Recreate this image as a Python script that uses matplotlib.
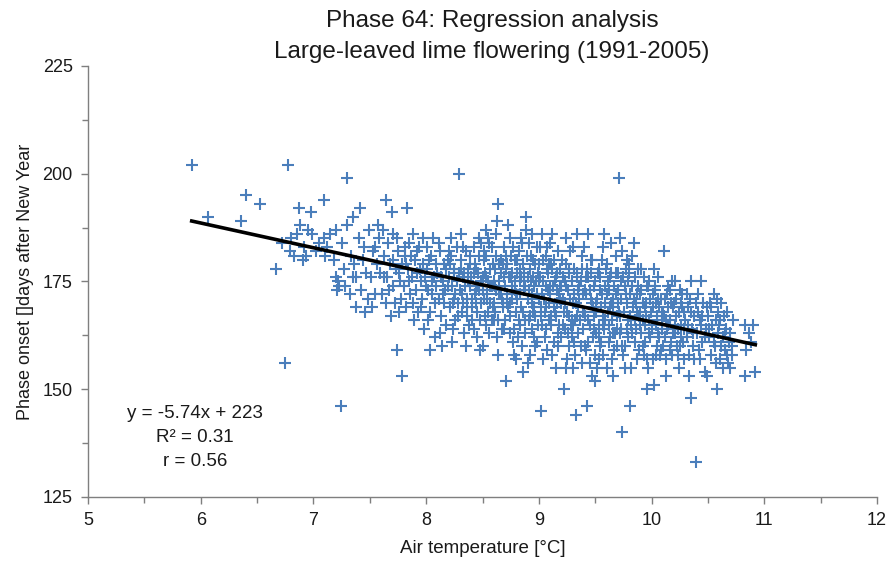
import matplotlib.pyplot as plt

plt.rcParams['font.family'] = ['Liberation Sans', 'DejaVu Sans']

# (air temperature [°C], phase onset [day of year])
obs = [
    (5.92, 202), (6.06, 190), (6.36, 189), (6.40, 195), (6.53, 193),
    (6.67, 178), (6.75, 156), (6.77, 202), (6.79, 182), (6.72, 184), (6.80, 185), (6.85, 186),
    (6.87, 192), (6.88, 188), (6.92, 183), (6.95, 187), (6.98, 191), (6.99, 186), (6.83, 181),
    (6.93, 181), (6.91, 180),
    (7.02, 182), (7.05, 184), (7.09, 194), (7.09, 185), (7.10, 181), (7.12, 183), (7.15, 186),
    (7.18, 180), (7.20, 176), (7.20, 187), (7.22, 175), (7.24, 146), (7.21, 173), (7.23, 174),
    (7.25, 184), (7.27, 178), (7.28, 174), (7.30, 199), (7.30, 188), (7.32, 172), (7.33, 181),
    (7.35, 190), (7.35, 176), (7.36, 179), (7.38, 176), (7.38, 169), (7.40, 185), (7.41, 192),
    (7.42, 173), (7.44, 180), (7.45, 183), (7.46, 168), (7.47, 177), (7.48, 171), (7.49, 187),
    (7.51, 176), (7.53, 182), (7.55, 172), (7.56, 179), (7.58, 185), (7.52, 169), (7.57, 188), (7.59, 177),
    (7.61, 172), (7.63, 181), (7.64, 194), (7.65, 176), (7.66, 184), (7.67, 173), (7.68, 179),
    (7.62, 187), (7.69, 167), (7.64, 170),
    (7.70, 191), (7.71, 186), (7.72, 170), (7.73, 178), (7.74, 159), (7.75, 182), (7.76, 168),
    (7.77, 175), (7.78, 171), (7.79, 153), (7.71, 180), (7.74, 185), (7.76, 177),
    (7.80, 174), (7.81, 181), (7.82, 169), (7.83, 192), (7.84, 178), (7.85, 184), (7.86, 172),
    (7.87, 176), (7.88, 186), (7.89, 166), (7.82, 179), (7.85, 175), (7.88, 170), (7.81, 183),
    (7.90, 180), (7.91, 173), (7.92, 177), (7.93, 168), (7.94, 183), (7.95, 175), (7.96, 171),
    (7.97, 179), (7.98, 164), (7.99, 176), (7.92, 182), (7.95, 169), (7.97, 185),
    (8.00, 174), (8.01, 178), (8.02, 166), (8.03, 159), (8.04, 181), (8.05, 172), (8.06, 185),
    (8.07, 176), (8.08, 170), (8.09, 179), (8.01, 183), (8.03, 168), (8.05, 175), (8.08, 162), (8.02, 173),
    (8.10, 177), (8.11, 171), (8.12, 182), (8.13, 167), (8.14, 160), (8.15, 175), (8.16, 179),
    (8.17, 173), (8.18, 165), (8.19, 180), (8.11, 184), (8.13, 176), (8.16, 170), (8.18, 178),
    (8.12, 163), (8.19, 174),
    (8.20, 176), (8.21, 169), (8.22, 181), (8.23, 174), (8.24, 164), (8.25, 178), (8.26, 172),
    (8.27, 183), (8.28, 167), (8.29, 200), (8.21, 179), (8.23, 161), (8.25, 171), (8.27, 175),
    (8.29, 177), (8.22, 185), (8.24, 170), (8.26, 166),
    (8.30, 173), (8.31, 180), (8.32, 168), (8.33, 176), (8.34, 163), (8.35, 182), (8.36, 171),
    (8.37, 178), (8.38, 165), (8.39, 174), (8.31, 186), (8.33, 170), (8.35, 160), (8.37, 175),
    (8.39, 179), (8.32, 172), (8.34, 177), (8.36, 167),
    (8.40, 176), (8.41, 169), (8.42, 183), (8.43, 172), (8.44, 178), (8.45, 162), (8.46, 174),
    (8.47, 181), (8.48, 166), (8.49, 175), (8.41, 171), (8.43, 179), (8.45, 168), (8.47, 173),
    (8.49, 184), (8.42, 164), (8.44, 170), (8.46, 177), (8.48, 159),
    (8.50, 173), (8.51, 180), (8.52, 167), (8.53, 176), (8.54, 171), (8.55, 185), (8.56, 163),
    (8.57, 178), (8.58, 174), (8.59, 169), (8.51, 182), (8.53, 165), (8.55, 175), (8.57, 170),
    (8.59, 179), (8.50, 160), (8.52, 177), (8.54, 172), (8.56, 184), (8.58, 166), (8.53, 187),
    (8.60, 175), (8.61, 168), (8.62, 181), (8.63, 189), (8.64, 193), (8.65, 172), (8.66, 177),
    (8.67, 164), (8.68, 170), (8.69, 183), (8.61, 174), (8.63, 162), (8.65, 179), (8.67, 171),
    (8.69, 176), (8.60, 166), (8.62, 173), (8.64, 158), (8.66, 180), (8.68, 169), (8.62, 186),
    (8.70, 174), (8.71, 152), (8.72, 179), (8.73, 188), (8.74, 167), (8.75, 176), (8.76, 171),
    (8.77, 183), (8.78, 164), (8.79, 173), (8.71, 178), (8.73, 169), (8.75, 181), (8.77, 161),
    (8.79, 175), (8.70, 166), (8.72, 172), (8.74, 185), (8.76, 177), (8.78, 158), (8.74, 170),
    (8.80, 172), (8.81, 180), (8.82, 166), (8.83, 175), (8.84, 169), (8.85, 184), (8.86, 154),
    (8.87, 177), (8.88, 163), (8.89, 190), (8.89, 187), (8.81, 171), (8.83, 178), (8.85, 160),
    (8.87, 173), (8.82, 182), (8.84, 176), (8.86, 168), (8.88, 174), (8.80, 157), (8.83, 165), (8.86, 179),
    (8.90, 156), (8.91, 173), (8.92, 167), (8.93, 181), (8.94, 170), (8.95, 176), (8.96, 162),
    (8.97, 179), (8.98, 172), (8.99, 165), (8.91, 184), (8.93, 175), (8.95, 168), (8.97, 160),
    (8.99, 177), (8.90, 171), (8.92, 178), (8.94, 164), (8.96, 174), (8.98, 183), (8.92, 158),
    (8.96, 169), (8.94, 186),
    (9.00, 171), (9.01, 176), (9.02, 145), (9.03, 165), (9.04, 180), (9.05, 168), (9.06, 174),
    (9.07, 159), (9.08, 177), (9.09, 170), (9.01, 183), (9.03, 172), (9.05, 162), (9.07, 178),
    (9.09, 166), (9.00, 175), (9.02, 169), (9.04, 157), (9.06, 181), (9.08, 173), (9.03, 186),
    (9.06, 164), (9.09, 179),
    (9.10, 172), (9.11, 167), (9.12, 178), (9.13, 161), (9.14, 175), (9.15, 155), (9.16, 170),
    (9.17, 182), (9.18, 165), (9.19, 174), (9.11, 179), (9.13, 169), (9.15, 176), (9.17, 163),
    (9.19, 171), (9.10, 184), (9.12, 158), (9.14, 168), (9.16, 177), (9.18, 172), (9.12, 186), (9.17, 160),
    (9.20, 170), (9.21, 176), (9.22, 150), (9.23, 164), (9.24, 179), (9.25, 168), (9.26, 173),
    (9.27, 160), (9.28, 182), (9.29, 166), (9.21, 171), (9.23, 175), (9.25, 157), (9.27, 178),
    (9.29, 162), (9.20, 174), (9.22, 168), (9.24, 185), (9.26, 163), (9.28, 171), (9.24, 155), (9.27, 167),
    (9.30, 155), (9.31, 172), (9.32, 166), (9.33, 144), (9.34, 177), (9.35, 169), (9.36, 174),
    (9.37, 160), (9.38, 181), (9.39, 164), (9.31, 178), (9.33, 170), (9.35, 163), (9.37, 175),
    (9.39, 168), (9.30, 183), (9.32, 158), (9.34, 167), (9.36, 171), (9.38, 156), (9.34, 186), (9.30, 165),
    (9.40, 168), (9.41, 173), (9.42, 159), (9.43, 146), (9.44, 176), (9.45, 165), (9.46, 171),
    (9.47, 180), (9.48, 162), (9.49, 174), (9.41, 167), (9.43, 178), (9.45, 156), (9.47, 170),
    (9.49, 164), (9.40, 183), (9.42, 172), (9.44, 161), (9.46, 177), (9.48, 169), (9.44, 186), (9.47, 153),
    (9.50, 152), (9.51, 170), (9.52, 155), (9.53, 165), (9.54, 176), (9.55, 161), (9.56, 172),
    (9.57, 167), (9.58, 186), (9.59, 174), (9.51, 163), (9.53, 178), (9.55, 169), (9.57, 158),
    (9.59, 166), (9.50, 175), (9.52, 171), (9.54, 160), (9.56, 180), (9.58, 164), (9.53, 157), (9.57, 183),
    (9.60, 155), (9.61, 168), (9.62, 173), (9.63, 162), (9.64, 177), (9.65, 166), (9.66, 171),
    (9.67, 159), (9.68, 181), (9.69, 164), (9.61, 175), (9.63, 169), (9.65, 157), (9.67, 174),
    (9.69, 167), (9.60, 179), (9.62, 161), (9.64, 170), (9.66, 163), (9.68, 172), (9.64, 184), (9.66, 153),
    (9.70, 170), (9.71, 199), (9.72, 185), (9.73, 164), (9.74, 140), (9.75, 176), (9.76, 160),
    (9.77, 172), (9.78, 180), (9.79, 166), (9.71, 168), (9.73, 175), (9.75, 158), (9.77, 178),
    (9.79, 162), (9.70, 173), (9.72, 167), (9.74, 182), (9.76, 155), (9.78, 170), (9.72, 163),
    (9.80, 177), (9.81, 146), (9.82, 165), (9.83, 181), (9.84, 184), (9.85, 161), (9.86, 170),
    (9.87, 157), (9.88, 174), (9.89, 167), (9.81, 172), (9.83, 163), (9.85, 176), (9.87, 168),
    (9.89, 159), (9.80, 179), (9.82, 155), (9.84, 171), (9.86, 164), (9.88, 178),
    (9.90, 168), (9.91, 173), (9.92, 160), (9.93, 176), (9.94, 165), (9.95, 170), (9.96, 150),
    (9.97, 155), (9.98, 163), (9.99, 171), (9.91, 178), (9.93, 158), (9.95, 167), (9.97, 174),
    (9.99, 162), (9.90, 172), (9.92, 166), (9.94, 169), (9.96, 157), (9.98, 175),
    (10.00, 164), (10.01, 169), (10.02, 151), (10.03, 173), (10.04, 158), (10.05, 167), (10.06, 176),
    (10.07, 162), (10.08, 171), (10.09, 166), (10.01, 157), (10.03, 174), (10.05, 160), (10.07, 169),
    (10.09, 164), (10.02, 178), (10.04, 170), (10.06, 163), (10.08, 159),
    (10.10, 168), (10.11, 182), (10.12, 162), (10.13, 153), (10.14, 172), (10.15, 165), (10.16, 159),
    (10.17, 170), (10.18, 175), (10.19, 163), (10.11, 167), (10.13, 157), (10.15, 174), (10.17, 161),
    (10.19, 169), (10.12, 171), (10.14, 164), (10.16, 166),
    (10.20, 170), (10.21, 163), (10.22, 167), (10.23, 158), (10.24, 155), (10.25, 173), (10.26, 165),
    (10.27, 172), (10.28, 161), (10.29, 168), (10.21, 175), (10.23, 164), (10.25, 160), (10.27, 169),
    (10.29, 157), (10.22, 171), (10.26, 162),
    (10.30, 166), (10.31, 162), (10.32, 169), (10.33, 153), (10.34, 171), (10.35, 175), (10.35, 148),
    (10.36, 164), (10.37, 160), (10.38, 167), (10.39, 133), (10.31, 172), (10.33, 158), (10.35, 168),
    (10.37, 163), (10.39, 170), (10.32, 165), (10.38, 157),
    (10.40, 163), (10.41, 168), (10.42, 159), (10.43, 166), (10.44, 175), (10.45, 161), (10.46, 170),
    (10.47, 154), (10.48, 164), (10.49, 153), (10.41, 172), (10.43, 157), (10.45, 167), (10.47, 162),
    (10.49, 169), (10.44, 165),
    (10.50, 167), (10.51, 162), (10.52, 170), (10.53, 158), (10.54, 165), (10.55, 172), (10.56, 160),
    (10.57, 156), (10.58, 150), (10.59, 168), (10.51, 164), (10.53, 169), (10.55, 161), (10.57, 166),
    (10.59, 163), (10.58, 171),
    (10.60, 165), (10.61, 157), (10.62, 170), (10.63, 162), (10.64, 167), (10.65, 159), (10.66, 164),
    (10.67, 168), (10.68, 156), (10.69, 161), (10.61, 166), (10.63, 155), (10.65, 163), (10.67, 158),
    (10.62, 160),
    (10.70, 163), (10.71, 158), (10.72, 166), (10.70, 155), (10.71, 160),
    (10.83, 165), (10.90, 165), (10.86, 163), (10.84, 159), (10.83, 153), (10.92, 154), (10.88, 161),
    # second pass over the crowded core
    (7.545, 183), (7.625, 176), (7.705, 174), (7.785, 179), (7.865, 181), (7.945, 178),
    (8.025, 180), (8.085, 174), (8.145, 172), (8.205, 182), (8.245, 177), (8.285, 170),
    (8.305, 178), (8.325, 183), (8.345, 174), (8.365, 169), (8.385, 181), (8.405, 166),
    (8.425, 177), (8.445, 173), (8.465, 185), (8.485, 170),
    (8.505, 176), (8.515, 171), (8.535, 181), (8.545, 168), (8.565, 174), (8.585, 183),
    (8.605, 170), (8.615, 178), (8.635, 166), (8.645, 175), (8.665, 172), (8.685, 179), (8.695, 164),
    (8.705, 181), (8.715, 170), (8.735, 176), (8.745, 163), (8.765, 174), (8.785, 180),
    (8.795, 168), (8.805, 177), (8.815, 162), (8.835, 172), (8.845, 185), (8.865, 175),
    (8.875, 166), (8.895, 181),
    (8.905, 176), (8.915, 166), (8.935, 172), (8.945, 180), (8.965, 167), (8.975, 175),
    (8.985, 161), (9.005, 179), (9.015, 167), (9.035, 175), (9.045, 171), (9.065, 169),
    (9.075, 183), (9.095, 174),
    (9.105, 165), (9.125, 174), (9.135, 180), (9.155, 167), (9.165, 173), (9.185, 178),
    (9.195, 162), (9.205, 180), (9.215, 165), (9.235, 170), (9.245, 174), (9.265, 177),
    (9.285, 165), (9.295, 175),
    (9.305, 170), (9.315, 161), (9.335, 176), (9.345, 173), (9.365, 166), (9.385, 178),
    (9.395, 172), (9.405, 160), (9.415, 176), (9.435, 166), (9.455, 173), (9.465, 180),
    (9.485, 167), (9.495, 158),
    (9.505, 168), (9.525, 177), (9.535, 162), (9.545, 173), (9.565, 165), (9.585, 170),
    (9.595, 178), (9.605, 172), (9.625, 165), (9.635, 176), (9.655, 169), (9.675, 163),
    (9.685, 177), (9.695, 160),
    (9.705, 177), (9.725, 171), (9.735, 160), (9.755, 168), (9.765, 174), (9.785, 164),
    (9.795, 175), (9.805, 167), (9.825, 174), (9.835, 169), (9.855, 166), (9.875, 172), (9.895, 165),
    (9.905, 163), (9.925, 170), (9.945, 161), (9.955, 174), (9.975, 166), (9.995, 168),
    (10.015, 172), (10.035, 165), (10.055, 171), (10.075, 158), (10.095, 168),
    (10.105, 160), (10.125, 166), (10.145, 169), (10.165, 173), (10.185, 158), (10.205, 165),
    (10.225, 160), (10.245, 168), (10.265, 170), (10.285, 164),
]
air_temp = [p[0] for p in obs]
onset_day = [p[1] for p in obs]

slope = -5.74
intercept = 223
stats_lines = ['y = -5.74x + 223', 'R² = 0.31', 'r = 0.56']

fig = plt.figure(figsize=(8.91, 5.62), dpi=100)
ax = fig.add_axes([0.0988, 0.1157, 0.8855, 0.767])

ax.scatter(air_temp, onset_day, marker='+', s=70, linewidths=1.5, color='#4A7EBB', zorder=2)

xl = [min(air_temp), max(air_temp)]
ax.plot(xl, [slope * v + intercept for v in xl], color='black', lw=2.6, zorder=3)

ax.set_xlim(5, 12)
ax.set_ylim(125, 225)
ax.set_xticks(range(5, 13))
ax.set_yticks([125, 150, 175, 200, 225])
ax.set_xticks([5.5 + i for i in range(7)], minor=True)
ax.set_yticks([137.5, 162.5, 187.5, 212.5], minor=True)

for s in ['top', 'right']:
    ax.spines[s].set_visible(False)
for s in ['left', 'bottom']:
    ax.spines[s].set_color('#7f7f7f')
    ax.spines[s].set_linewidth(1.0)
ax.tick_params(which='major', direction='out', length=5, width=1, color='#7f7f7f',
               labelsize=13, labelcolor='#1a1a1a', pad=6)
ax.tick_params(which='minor', direction='out', length=4, width=1, color='#7f7f7f')

ax.set_xlabel('Air temperature [°C]', fontsize=13.5, color='#1a1a1a', labelpad=8)
ax.set_ylabel('Phase onset []days after New Year', fontsize=13, color='#1a1a1a', labelpad=6)

fig.text(0.552, 0.962, 'Phase 64: Regression analysis', ha='center', va='center', fontsize=17.5, color='#1a1a1a')
fig.text(0.552, 0.908, 'Large-leaved lime flowering (1991-2005)', ha='center', va='center', fontsize=17.5, color='#1a1a1a')

for i, t in enumerate(stats_lines):
    ax.text(5.95, 144.3 - i * 5.55, t, ha='center', va='center', fontsize=13.5, color='#1a1a1a')

fig.savefig('out.png', dpi=100)
